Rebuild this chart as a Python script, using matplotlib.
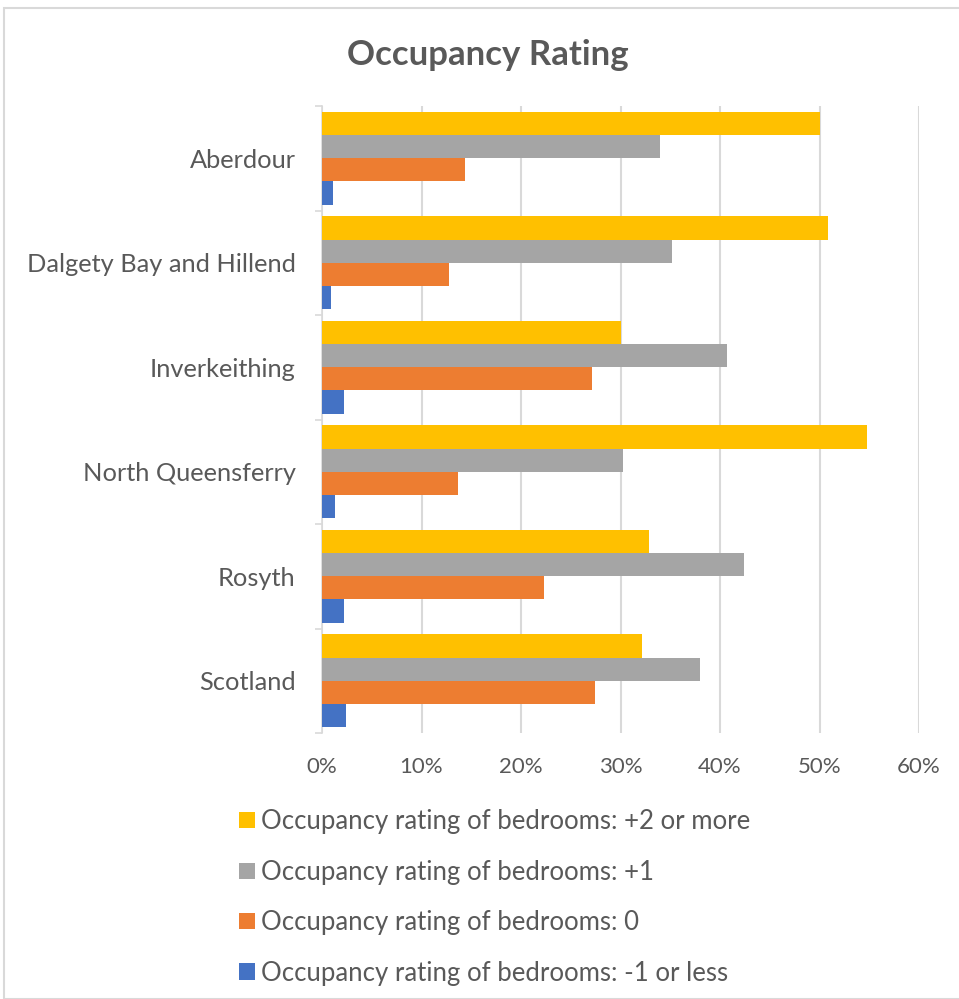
import numpy as np
import matplotlib.pyplot as plt
from matplotlib.patches import Patch, Rectangle
from matplotlib.ticker import PercentFormatter

plt.rcParams['font.family'] = ['Lato', 'DejaVu Sans']

areas = ['Aberdour', 'Dalgety Bay and Hillend', 'Inverkeithing',
         'North Queensferry', 'Rosyth', 'Scotland']
series_names = ['Occupancy rating of bedrooms: +2 or more',
                'Occupancy rating of bedrooms: +1',
                'Occupancy rating of bedrooms: 0',
                'Occupancy rating of bedrooms: -1 or less']
plus2 = [50.0, 50.9, 30.0, 54.8, 32.9, 32.2]
plus1 = [34.0, 35.2, 40.7, 30.3, 42.4, 38.0]
zero = [14.4, 12.8, 27.1, 13.7, 22.3, 27.4]
minus1 = [1.1, 0.9, 2.2, 1.3, 2.2, 2.4]
colors = ['#FFC000', '#A5A5A5', '#ED7D31', '#4472C4']

text_col = '#595959'
grid_col = '#D9D9D9'

fig = plt.figure(figsize=(9.59, 9.99), dpi=100)
ax = fig.add_axes([322 / 959, 1 - 733 / 999, 597 / 959, 627 / 999])

y = np.arange(len(areas))
h = 1 / 4.5
data = [plus2, plus1, zero, minus1]
for i, (vals, col) in enumerate(zip(data, colors)):
    offs = (i - 1.5) * h
    ax.barh(y + offs, vals, height=h, color=col, zorder=3)

ax.set_xlim(0, 60)
ax.set_ylim(len(areas) - 0.5, -0.5)
ax.set_xticks(np.arange(0, 61, 10))
ax.xaxis.set_major_formatter(PercentFormatter(decimals=0))
ax.grid(axis='x', color=grid_col, linewidth=1.5, zorder=0)

# category boundaries as major ticks, names on minor ticks
ax.set_yticks(np.arange(-0.5, len(areas), 1.0))
ax.set_yticklabels([])
ax.set_yticks(y, minor=True)
ax.set_yticklabels(areas, minor=True)
ax.tick_params(axis='y', which='major', length=5, color=grid_col, width=1.2)
ax.tick_params(axis='y', which='minor', length=0, pad=19, labelsize=18.3, labelcolor=text_col)
ax.tick_params(axis='x', length=0, pad=17, labelsize=16, labelcolor=text_col)

for s in ['top', 'right', 'bottom']:
    ax.spines[s].set_visible(False)
ax.spines['left'].set_color(grid_col)
ax.spines['left'].set_linewidth(1.2)

fig.text(488 / 959, 1 - 55 / 999, 'Occupancy Rating', ha='center', va='center',
         fontsize=25, fontweight='bold', color=text_col)

handles = [Patch(facecolor=c, label=n) for c, n in zip(colors, series_names)]
fig.legend(handles=handles, loc='upper left', bbox_to_anchor=(229 / 959, 1 - 799 / 999),
           frameon=False, fontsize=18.5, labelcolor=text_col, handlelength=0.6,
           handleheight=0.6, handletextpad=0.25, labelspacing=0.99, borderaxespad=0)

fig.patches.append(Rectangle((4 / 959, 0), 1, 1 - 8 / 999, transform=fig.transFigure,
                             fill=False, edgecolor=grid_col, linewidth=1.5))

fig.savefig('out.png', dpi=100)
